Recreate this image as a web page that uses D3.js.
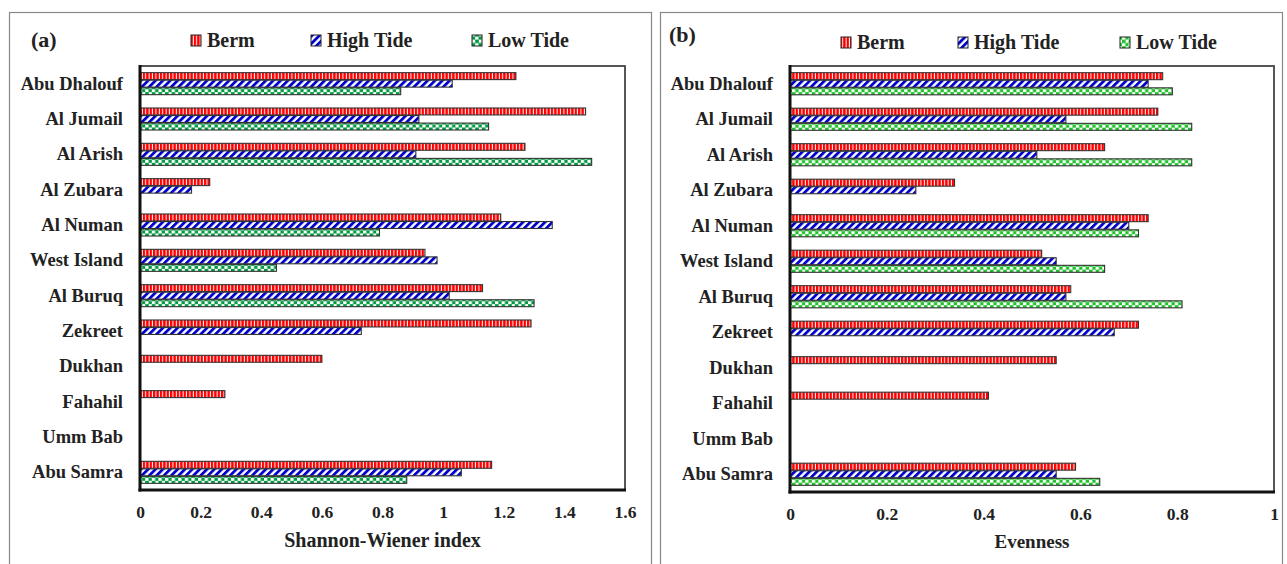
<!DOCTYPE html>
<html>
<head>
<meta charset="utf-8">
<script src="https://cdn.jsdelivr.net/npm/d3@7"></script>
<style>
  body { margin: 0; background: #fff; }
  svg { display: block; font-family: "Liberation Serif", "Times New Roman", serif; font-weight: bold; }
</style>
</head>
<body>
<div id="chart"></div>
<script>
// sites, top to bottom
const sites = ["Abu Dhalouf", "Al Jumail", "Al Arish", "Al Zubara", "Al Numan", "West Island",
  "Al Buruq", "Zekreet", "Dukhan", "Fahahil", "Umm Bab", "Abu Samra"];
const seriesNames = ["Berm", "High Tide", "Low Tide"];

// (a) Shannon-Wiener index
const shannonBerm = [1.24, 1.47, 1.27, 0.23, 1.19, 0.94, 1.13, 1.29, 0.60, 0.28, 0, 1.16];
const shannonHigh = [1.03, 0.92, 0.91, 0.17, 1.36, 0.98, 1.02, 0.73, 0, 0, 0, 1.06];
const shannonLow  = [0.86, 1.15, 1.49, 0, 0.79, 0.45, 1.30, 0, 0, 0, 0, 0.88];
const shannonTicks = [0, 0.2, 0.4, 0.6, 0.8, 1, 1.2, 1.4, 1.6];

// (b) Evenness
const evenBerm = [0.77, 0.76, 0.65, 0.34, 0.74, 0.52, 0.58, 0.72, 0.55, 0.41, 0, 0.59];
const evenHigh = [0.74, 0.57, 0.51, 0.26, 0.70, 0.55, 0.57, 0.67, 0, 0, 0, 0.55];
const evenLow  = [0.79, 0.83, 0.83, 0, 0.72, 0.65, 0.81, 0, 0, 0, 0, 0.64];
const evenTicks = [0, 0.2, 0.4, 0.6, 0.8, 1];

const W = 1287, H = 564;
const svg = d3.select("#chart").append("svg").attr("width", W).attr("height", H);
const defs = svg.append("defs");

// fill patterns
function stripes(id, color) {
  const p = defs.append("pattern").attr("id", id).attr("patternUnits", "userSpaceOnUse")
    .attr("width", 3.4).attr("height", 10);
  p.append("rect").attr("width", 3.4).attr("height", 10).attr("fill", "#fff");
  p.append("rect").attr("width", 2.4).attr("height", 10).attr("fill", color);
}
function diag(id, color) {
  const p = defs.append("pattern").attr("id", id).attr("patternUnits", "userSpaceOnUse")
    .attr("width", 5.2).attr("height", 5.2).attr("patternTransform", "rotate(45)");
  p.append("rect").attr("width", 5.2).attr("height", 5.2).attr("fill", "#fff");
  p.append("rect").attr("width", 2.8).attr("height", 5.2).attr("fill", color);
}
function checker(id, color) {
  const p = defs.append("pattern").attr("id", id).attr("patternUnits", "userSpaceOnUse")
    .attr("width", 6.6).attr("height", 6.6);
  p.append("rect").attr("width", 6.6).attr("height", 6.6).attr("fill", "#fff");
  p.append("rect").attr("width", 3.6).attr("height", 3.6).attr("fill", color);
  p.append("rect").attr("x", 3.3).attr("y", 3.3).attr("width", 3.6).attr("height", 3.6).attr("fill", color);
}
stripes("berm", "#ff0000");
diag("high", "#0000cc");
checker("lowA", "#009a40");
checker("lowB", "#1fc22a");

function panel(cfg) {
  // outer frame
  svg.append("rect").attr("x", cfg.frame[0]).attr("y", cfg.frame[1])
    .attr("width", cfg.frame[2]).attr("height", cfg.frame[3])
    .attr("fill", "none").attr("stroke", "#888").attr("stroke-width", 1.2);

  const x = d3.scaleLinear().domain(cfg.domain).range([cfg.left, cfg.right]);
  const y = d3.scaleBand().domain(sites).range([cfg.top, cfg.bottom])
    .paddingInner(0.36).paddingOuter(0.18);
  const ys = d3.scaleBand().domain(seriesNames).range([0, y.bandwidth()]);
  const fills = ["url(#berm)", "url(#high)", cfg.lowFill];

  // plot box
  svg.append("rect").attr("x", cfg.left).attr("y", cfg.top)
    .attr("width", cfg.right - cfg.left).attr("height", cfg.bottom - cfg.top)
    .attr("fill", "none").attr("stroke", "#444").attr("stroke-width", 1.8);

  const rows = sites.map((s, i) => ({ site: s, vals: cfg.series.map(a => a[i]) }));
  const g = svg.append("g").selectAll("g").data(rows).join("g")
    .attr("transform", d => `translate(0,${y(d.site)})`);
  g.selectAll("rect")
    .data(d => d.vals.map((v, k) => ({ v, k })).filter(e => e.v > 0))
    .join("rect")
    .attr("x", x(0))
    .attr("y", d => ys(seriesNames[d.k]) + 0.3)
    .attr("width", d => x(d.v) - x(0))
    .attr("height", ys.bandwidth() - 0.6)
    .attr("fill", d => fills[d.k])
    .attr("stroke", "#333").attr("stroke-width", 1.1);

  // axes
  const ax = svg.append("g").attr("transform", `translate(0,${cfg.bottom})`)
    .call(d3.axisBottom(x).tickValues(cfg.ticks).tickFormat(d3.format("")).tickSize(0).tickPadding(16));
  ax.select(".domain").remove();
  ax.selectAll("text").attr("font-size", 17.5).attr("font-family", "Liberation Serif").attr("font-weight", "bold").attr("fill", "#222");

  const ay = svg.append("g").attr("transform", `translate(${cfg.left},0)`)
    .call(d3.axisLeft(y).tickSize(0).tickPadding(17));
  ay.select(".domain").remove();
  ay.selectAll("text").attr("font-size", 18.5).attr("font-family", "Liberation Serif").attr("font-weight", "bold").attr("fill", "#222");

  svg.append("line").attr("x1", cfg.left).attr("x2", cfg.left).attr("y1", cfg.top - 1).attr("y2", cfg.bottom + 1.5)
    .attr("stroke", "#111").attr("stroke-width", 3);
  svg.append("line").attr("x1", cfg.left - 1.5).attr("x2", cfg.right + 1).attr("y1", cfg.bottom).attr("y2", cfg.bottom)
    .attr("stroke", "#111").attr("stroke-width", 3);

  // axis title
  svg.append("text").attr("x", (cfg.left + cfg.right) / 2).attr("y", cfg.titleY)
    .attr("text-anchor", "middle").attr("font-size", cfg.titleSize).attr("fill", "#222").text(cfg.title);

  // panel label
  svg.append("text").attr("x", cfg.tag[0]).attr("y", cfg.tag[1])
    .attr("font-size", 22).attr("fill", "#222").text(cfg.tagText);

  // legend
  seriesNames.forEach((name, k) => {
    const lx = cfg.legendX[k];
    svg.append("rect").attr("x", lx).attr("y", cfg.legendY - 12).attr("width", 10).attr("height", 11)
      .attr("fill", fills[k]).attr("stroke", "#222").attr("stroke-width", 1);
    svg.append("text").attr("x", lx + 16).attr("y", cfg.legendY)
      .attr("font-size", 20).attr("fill", "#222").text(name);
  });
}

panel({
  frame: [9.5, 12.5, 642, 600],
  left: 140, right: 625, top: 66, bottom: 490,
  domain: [0, 1.6], ticks: shannonTicks,
  series: [shannonBerm, shannonHigh, shannonLow],
  lowFill: "url(#lowA)",
  title: "Shannon-Wiener index", titleY: 547, titleSize: 20,
  tag: [31, 47], tagText: "(a)",
  legendX: [191, 311, 472], legendY: 47
});

panel({
  frame: [660.5, 12.5, 622, 600],
  left: 790, right: 1274, top: 66, bottom: 492,
  domain: [0, 1], ticks: evenTicks,
  series: [evenBerm, evenHigh, evenLow],
  lowFill: "url(#lowB)",
  title: "Evenness", titleY: 548, titleSize: 19,
  tag: [669, 42], tagText: "(b)",
  legendX: [841, 958, 1120], legendY: 49
});
</script>
</body>
</html>
